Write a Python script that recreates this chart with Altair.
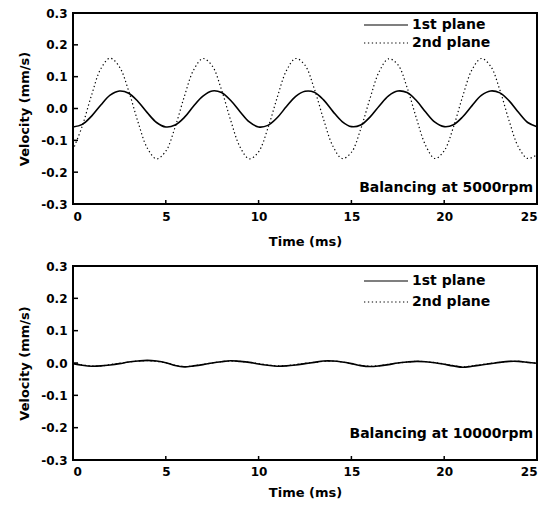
import altair as alt
import pandas as pd

# ---------------- data ----------------
time_ms = [0.0, 0.5, 1.0, 1.5, 2.0, 2.5, 3.0, 3.5, 4.0, 4.5,
           5.0, 5.5, 6.0, 6.5, 7.0, 7.5, 8.0, 8.5, 9.0, 9.5,
           10.0, 10.5, 11.0, 11.5, 12.0, 12.5, 13.0, 13.5, 14.0, 14.5,
           15.0, 15.5, 16.0, 16.5, 17.0, 17.5, 18.0, 18.5, 19.0, 19.5,
           20.0, 20.5, 21.0, 21.5, 22.0, 22.5, 23.0, 23.5, 24.0, 24.5,
           25.0]

top_1st = [-0.058, -0.050, -0.024, 0.011, 0.042, 0.055, 0.048, 0.022, -0.013, -0.044,
           -0.058, -0.052, -0.028, 0.008, 0.039, 0.055, 0.050, 0.025, -0.010, -0.042,
           -0.058, -0.053, -0.029, 0.006, 0.038, 0.054, 0.051, 0.027, -0.009, -0.041,
           -0.057, -0.052, -0.027, 0.008, 0.040, 0.055, 0.050, 0.025, -0.011, -0.043,
           -0.057, -0.051, -0.026, 0.009, 0.041, 0.055, 0.049, 0.024, -0.012, -0.044,
           -0.057]

top_2nd = [-0.130, -0.055, 0.042, 0.125, 0.158, 0.131, 0.055, -0.042, -0.124, -0.158,
           -0.134, -0.059, 0.038, 0.121, 0.157, 0.134, 0.059, -0.038, -0.121, -0.158,
           -0.136, -0.062, 0.034, 0.119, 0.157, 0.136, 0.062, -0.034, -0.118, -0.157,
           -0.138, -0.065, 0.031, 0.116, 0.156, 0.138, 0.066, -0.030, -0.116, -0.157,
           -0.133, -0.058, 0.039, 0.122, 0.157, 0.133, 0.058, -0.039, -0.121, -0.157,
           -0.145]

bot_1st = [-0.002, -0.007, -0.010, -0.009, -0.006, -0.002, 0.003, 0.006, 0.008, 0.006,
           0.001, -0.008, -0.012, -0.009, -0.005, 0.000, 0.004, 0.007, 0.005, 0.002,
           -0.003, -0.007, -0.010, -0.009, -0.006, -0.002, 0.002, 0.006, 0.006, 0.003,
           -0.002, -0.008, -0.011, -0.009, -0.005, 0.000, 0.003, 0.005, 0.004, 0.001,
           -0.004, -0.009, -0.013, -0.010, -0.006, -0.002, 0.002, 0.005, 0.005, 0.002,
           -0.001]

bot_2nd = [-0.001, -0.006, -0.009, -0.009, -0.005, -0.001, 0.003, 0.006, 0.007, 0.005,
           0.001, -0.007, -0.011, -0.009, -0.004, 0.000, 0.004, 0.006, 0.005, 0.002,
           -0.002, -0.006, -0.009, -0.008, -0.005, -0.001, 0.002, 0.005, 0.006, 0.003,
           -0.002, -0.007, -0.010, -0.008, -0.004, 0.000, 0.003, 0.005, 0.004, 0.001,
           -0.003, -0.008, -0.012, -0.009, -0.005, -0.001, 0.002, 0.005, 0.005, 0.002,
           -0.001]

series_names = ["1st plane", "2nd plane"]
notes = ["Balancing at 5000rpm", "Balancing at 10000rpm"]
x_ticks = [0, 5, 10, 15, 20, 25]
y_ticks = [-0.3, -0.2, -0.1, 0.0, 0.1, 0.2, 0.3]

# ---------------- styling ----------------
W = 464
FONT = "DejaVu Sans"
DOTS = [1.3, 2.6]

x_scale = alt.Scale(domain=[0, 25], nice=False, zero=False)
y_scale = alt.Scale(domain=[-0.3, 0.3], nice=False)

y_axis = alt.Axis(values=y_ticks, title="Velocity (mm/s)",
                  labelExpr="datum.value < -0.001 ? '-' + format(-datum.value, '.1f') : format(abs(datum.value), '.1f')",
                  ticks=False, domain=False, grid=False,
                  labelPadding=6, titlePadding=9)


def x_axis(label_pad, title_pad):
    return alt.Axis(values=x_ticks, title="Time (ms)", format="d",
                    ticks=False, domain=False, grid=False,
                    labelPadding=label_pad, titlePadding=title_pad)


def panel(v1, v2, note, H, leg_y1, leg_y2, note_y, label_pad, title_pad):
    xa = x_axis(label_pad, title_pad)
    df = pd.DataFrame({
        "t": time_ms + time_ms,
        "v": v1 + v2,
        "s": [series_names[0]] * len(time_ms) + [series_names[1]] * len(time_ms),
    })
    base = alt.Chart(df).encode(
        x=alt.X("t:Q", scale=x_scale, axis=xa),
        y=alt.Y("v:Q", scale=y_scale, axis=y_axis),
    )
    dotted = base.transform_filter(alt.datum.s == series_names[1]).mark_line(
        color="black", strokeWidth=1.2, strokeDash=DOTS, interpolate="catmull-rom")
    solid = base.transform_filter(alt.datum.s == series_names[0]).mark_line(
        color="black", strokeWidth=1.6, interpolate="catmull-rom")

    xt = alt.Chart(pd.DataFrame({"t": x_ticks})).mark_rule(color="black", strokeWidth=1.5).encode(
        x=alt.X("t:Q", scale=x_scale, axis=xa), y=alt.value(H), y2=alt.value(H - 4))
    yt = alt.Chart(pd.DataFrame({"v": y_ticks})).mark_rule(color="black", strokeWidth=1.5).encode(
        y=alt.Y("v:Q", scale=y_scale, axis=y_axis), x=alt.value(0), x2=alt.value(5))

    leg_line1 = alt.Chart().mark_rule(color="black", strokeWidth=1.2).encode(
        x=alt.value(291), x2=alt.value(335), y=alt.value(leg_y1))
    leg_line2 = alt.Chart().mark_rule(color="black", strokeWidth=1.2, strokeDash=DOTS).encode(
        x=alt.value(291), x2=alt.value(335), y=alt.value(leg_y2))
    leg_txt1 = alt.Chart().mark_text(text=series_names[0], align="left", baseline="middle",
                                     font=FONT, fontSize=14, fontWeight="bold").encode(
        x=alt.value(339), y=alt.value(leg_y1))
    leg_txt2 = alt.Chart().mark_text(text=series_names[1], align="left", baseline="middle",
                                     font=FONT, fontSize=14, fontWeight="bold").encode(
        x=alt.value(339), y=alt.value(leg_y2))
    note_txt = alt.Chart().mark_text(text=note, align="right", baseline="middle",
                                     font=FONT, fontSize=14, fontWeight="bold").encode(
        x=alt.value(460), y=alt.value(note_y))

    return alt.layer(dotted, solid, xt, yt, leg_line1, leg_line2, leg_txt1, leg_txt2, note_txt).properties(
        width=W, height=H)


top = panel(top_1st, top_2nd, notes[0], 191, 12, 30, 175, 7, 13)
bottom = panel(bot_1st, bot_2nd, notes[1], 194, 15, 36, 168, 6, 9)

chart = alt.vconcat(top, bottom, spacing=10).properties(
    padding={"left": 9, "top": -2, "right": 0, "bottom": 0},
    background="white",
).configure_view(
    stroke="black", strokeWidth=2
).configure_axis(
    labelFont=FONT, labelFontSize=12, labelFontWeight="bold", labelColor="black",
    titleFont=FONT, titleFontSize=13, titleFontWeight="bold", titleColor="black",
)

chart.save("out.html", embed_options={"renderer": "svg", "actions": False})
